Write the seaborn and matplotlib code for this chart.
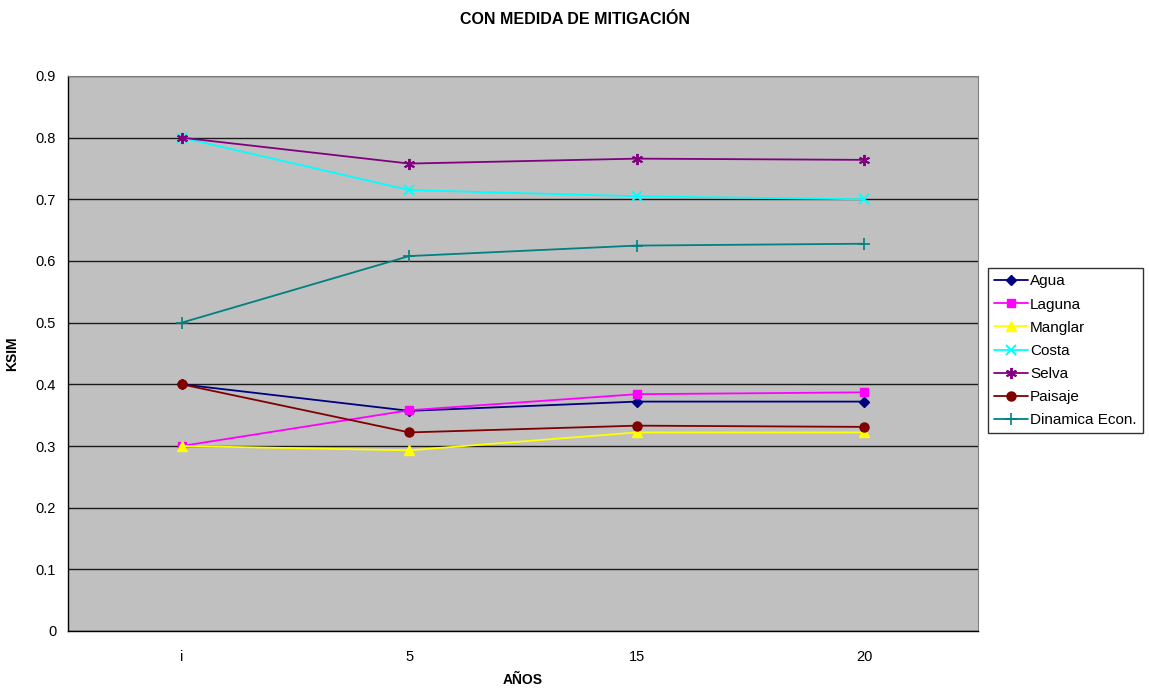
import matplotlib
matplotlib.use("Agg")
import matplotlib.pyplot as plt
import seaborn as sns
import pandas as pd

# categorias del eje x (años)
anios = ["i", "5", "15", "20"]

# valores KSIM por componente
agua = [0.400, 0.357, 0.372, 0.372]
laguna = [0.300, 0.358, 0.384, 0.387]
manglar = [0.300, 0.293, 0.322, 0.322]
costa = [0.800, 0.715, 0.705, 0.700]
selva = [0.800, 0.758, 0.766, 0.764]
paisaje = [0.400, 0.322, 0.333, 0.331]
dinamica = [0.500, 0.608, 0.625, 0.628]

series = {
    "Agua": agua,
    "Laguna": laguna,
    "Manglar": manglar,
    "Costa": costa,
    "Selva": selva,
    "Paisaje": paisaje,
    "Dinamica Econ.": dinamica,
}

estilos = {
    "Agua": dict(color="#000080", marker="D", markersize=5),
    "Laguna": dict(color="#FF00FF", marker="s", markersize=6),
    "Manglar": dict(color="#FFFF00", marker="^", markersize=6.5),
    "Costa": dict(color="#00FFFF", marker="x", markersize=7, markeredgewidth=1.4),
    "Selva": dict(color="#800080", marker=(6, 2, 0), markersize=8, markeredgewidth=1.4),
    "Paisaje": dict(color="#800000", marker="o", markersize=6.5),
    "Dinamica Econ.": dict(color="#008080", marker="+", markersize=8, markeredgewidth=1.2),
}

sns.set_style("white")
plt.rcParams["font.family"] = ["Liberation Sans", "DejaVu Sans"]
plt.rcParams["text.color"] = "black"
plt.rcParams["axes.labelcolor"] = "black"
plt.rcParams["xtick.color"] = "black"
plt.rcParams["ytick.color"] = "black"

fig = plt.figure(figsize=(11.49, 6.9), dpi=100)
ax = fig.add_axes([68 / 1149, 59 / 690, 910 / 1149, 555 / 690])
ax.set_facecolor("#C0C0C0")

for nombre, valores in series.items():
    df = pd.DataFrame({"x": range(len(anios)), "y": valores})
    st = estilos[nombre]
    sns.lineplot(data=df, x="x", y="y", ax=ax, label=nombre,
                 color=st["color"], marker=st["marker"],
                 markersize=st["markersize"],
                 markeredgewidth=st.get("markeredgewidth", 1.0),
                 markeredgecolor=st["color"], linewidth=1.3, zorder=3)

ax.set_xlim(-0.5, len(anios) - 0.5)
ax.set_ylim(0, 0.9)
ax.set_yticks([i / 10 for i in range(10)])
ax.set_yticklabels(["0"] + [f"0.{i}" for i in range(1, 10)])
ax.yaxis.grid(True, color="#1a1a1a", linewidth=1.0)
ax.set_axisbelow(True)

# marcas entre categorias, etiquetas centradas
ax.set_xticks([i - 0.5 for i in range(len(anios) + 1)])
ax.set_xticklabels([])
ax.set_xticks(range(len(anios)), minor=True)
ax.set_xticklabels(anios, minor=True)
ax.tick_params(axis="x", which="major", direction="out", length=5, color="black")
ax.tick_params(axis="x", which="minor", length=0, pad=14, labelsize=10.5)
ax.tick_params(axis="y", direction="out", length=5, color="black", labelsize=10.5)

for s in ["left", "bottom"]:
    ax.spines[s].set_color("black")
    ax.spines[s].set_linewidth(1.0)
for s in ["top", "right"]:
    ax.spines[s].set_color("#808080")
    ax.spines[s].set_linewidth(0.8)

ax.set_xlabel("AÑOS", fontsize=10, fontweight="bold", labelpad=6)
ax.set_ylabel("KSIM", fontsize=10, fontweight="bold", labelpad=12)
fig.suptitle("CON MEDIDA DE MITIGACIÓN", fontsize=11.5, fontweight="bold", y=0.982)

leg = ax.legend(loc="center left", bbox_to_anchor=(0.86, 0.4915),
                bbox_transform=fig.transFigure, frameon=True, fancybox=False,
                fontsize=11, handlelength=2.2, handletextpad=0.15,
                labelspacing=0.6, borderpad=0.4, borderaxespad=0)
leg.get_frame().set_edgecolor("black")
leg.get_frame().set_linewidth(1.0)

fig.savefig("out.png", dpi=100)
